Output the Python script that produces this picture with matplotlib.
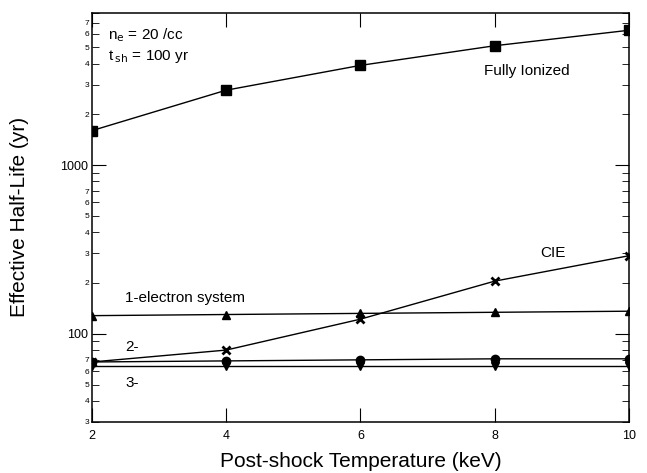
import math
import matplotlib.pyplot as plt
from matplotlib.ticker import LogLocator, FixedLocator, FuncFormatter

plt.rcParams['font.family'] = ['Liberation Sans', 'DejaVu Sans']

temp = [2, 4, 6, 8, 10]
fully_ionized = [1600, 2780, 3900, 5100, 6300]
cie = [68, 80, 122, 205, 290]
one_electron = [128, 130, 132, 134, 136]
two_electron = [68, 69, 70, 71, 71]
three_electron = [64.5, 64.5, 64.5, 64.5, 64.5]

fig = plt.figure(figsize=(6.47, 4.73), dpi=100)
ax = fig.add_axes([0.142, 0.108, 0.830, 0.865])

ax.plot(temp, fully_ionized, 'k-', marker='s', ms=6.5, lw=1)
ax.plot(temp, cie, 'k-', marker='x', ms=6, mew=2, lw=1)
ax.plot(temp, one_electron, 'k-', marker='^', ms=6, lw=1)
ax.plot(temp, two_electron, 'k-', marker='o', ms=6, lw=1)
ax.plot(temp, three_electron, 'k-', marker='v', ms=6, lw=1)

ax.set_yscale('log')
ax.set_xlim(2, 10)
ax.set_ylim(30, 8000)

ax.xaxis.set_major_locator(FixedLocator([2, 4, 6, 8, 10]))
ax.yaxis.set_major_locator(FixedLocator([100, 1000]))
ax.yaxis.set_major_formatter(FuncFormatter(lambda v, p: '%d' % v))
ax.yaxis.set_minor_locator(LogLocator(base=10, subs=range(2, 10)))


def minor_label(v, p):
    # only the leading digit, and only up to 7 in each decade
    d = int(round(v / 10 ** math.floor(math.log10(v))))
    return str(d) if d <= 7 else ''


ax.yaxis.set_minor_formatter(FuncFormatter(minor_label))
ax.tick_params(which='both', direction='in', top=True, right=True, color='k')
ax.tick_params(axis='y', which='major', length=10, labelsize=9, pad=3)
ax.tick_params(axis='y', which='minor', length=5, labelsize=6, pad=2)
ax.tick_params(axis='x', which='major', length=10, labelsize=9, pad=6)
for s in ax.spines.values():
    s.set_linewidth(1.1)

ax.set_xlabel('Post-shock Temperature (keV)', fontsize=15, labelpad=7)
ax.set_ylabel('Effective Half-Life (yr)', fontsize=15, labelpad=22)

ax.text(0.03, 0.945, r'n$_{\rm e}$ = 20 /cc', transform=ax.transAxes, fontsize=11, va='center')
ax.text(0.03, 0.893, r't$\,_{\rm sh}$ = 100 yr', transform=ax.transAxes, fontsize=11, va='center')
ax.text(8.48, 3600, 'Fully Ionized', fontsize=11, ha='center', va='center')
ax.text(8.87, 300, 'CIE', fontsize=11, ha='center', va='center')
ax.text(2.5, 162, '1-electron system', fontsize=11, va='center')
ax.text(2.5, 84, '2-', fontsize=11, va='center')
ax.text(2.5, 51, '3-', fontsize=11, va='center')

fig.savefig('out.png', dpi=100)
